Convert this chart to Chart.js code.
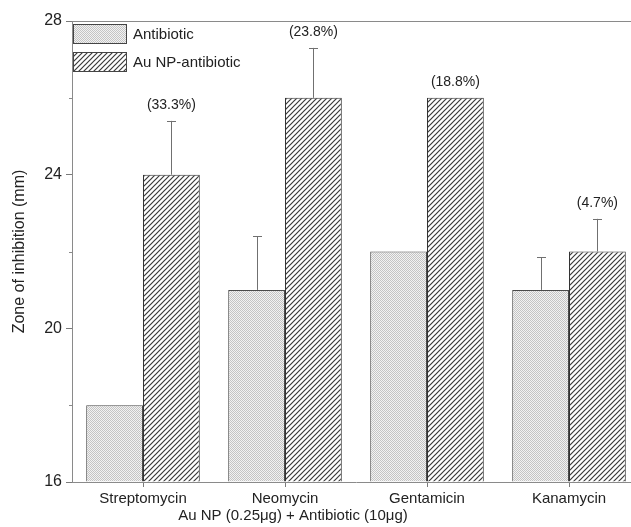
<!DOCTYPE html>
<html>
<head>
<meta charset="utf-8">
<script src="https://cdn.jsdelivr.net/npm/chart.js@4/dist/chart.umd.min.js"></script>
<style>
  html, body { margin: 0; padding: 0; background: #fff; overflow: hidden; }
  #wrap { width: 640px; height: 527px; }
</style>
</head>
<body>
<div id="wrap"><canvas id="chart" width="640" height="527"></canvas></div>
<script>
// Zone of inhibition for each antibiotic, alone and combined with Au nanoparticles
const categories = ['Streptomycin', 'Neomycin', 'Gentamicin', 'Kanamycin'];
const antibioticZone = [18, 21, 22, 21];
const auNpZone = [24, 26, 26, 22];
const antibioticErr = [0, 1.4, 0, 0.85];
const auNpErr = [1.4, 1.3, 0, 0.85];
const increaseLabels = ['(33.3%)', '(23.8%)', '(18.8%)', '(4.7%)'];
const yTicks = [16, 20, 24, 28];
const yMin = 16, yMax = 28;

const FONT = '"Liberation Sans", Arial, sans-serif';

// fill patterns: fine grey stipple and diagonal hatching
function stipplePattern() {
  const c = document.createElement('canvas');
  c.width = 2; c.height = 2;
  const g = c.getContext('2d');
  g.fillStyle = '#f2f2f2'; g.fillRect(0, 0, 2, 2);
  g.fillStyle = '#c4c4c4'; g.fillRect(0, 0, 1, 1); g.fillRect(1, 1, 1, 1);
  return g.createPattern(c, 'repeat');
}
function hatchPattern() {
  const s = 5;
  const c = document.createElement('canvas');
  c.width = s; c.height = s;
  const g = c.getContext('2d');
  g.fillStyle = '#ffffff'; g.fillRect(0, 0, s, s);
  g.strokeStyle = '#3a3a3a'; g.lineWidth = 1.2;
  g.beginPath();
  g.moveTo(-1, s + 1); g.lineTo(s + 1, -1);
  g.moveTo(-1, 1); g.lineTo(1, -1);
  g.moveTo(s - 1, s + 1); g.lineTo(s + 1, s - 1);
  g.stroke();
  return g.createPattern(c, 'repeat');
}

const fills = [stipplePattern(), hatchPattern()];
const errors = [antibioticErr, auNpErr];

// upward error bars and percentage labels above the hatched bars
const annotate = {
  id: 'annotate',
  afterDatasetsDraw(chart) {
    const ctx = chart.ctx;
    const y = chart.scales.y;
    ctx.save();
    chart.data.datasets.forEach((ds, di) => {
      const meta = chart.getDatasetMeta(di);
      meta.data.forEach((bar, i) => {
        const err = errors[di][i];
        if (err > 0) {
          const top = y.getPixelForValue(ds.data[i] + err);
          ctx.strokeStyle = '#707070';
          ctx.lineWidth = 1;
          ctx.beginPath();
          ctx.moveTo(Math.round(bar.x) + 0.5, bar.y);
          ctx.lineTo(Math.round(bar.x) + 0.5, top);
          ctx.moveTo(Math.round(bar.x) - 4, Math.round(top) + 0.5);
          ctx.lineTo(Math.round(bar.x) + 5, Math.round(top) + 0.5);
          ctx.stroke();
        }
      });
    });
    // percentage increase labels
    const hm = chart.getDatasetMeta(1);
    ctx.fillStyle = '#222';
    ctx.font = '14px ' + FONT;
    ctx.textAlign = 'center';
    ctx.textBaseline = 'middle';
    hm.data.forEach((bar, i) => {
      const top = y.getPixelForValue(auNpZone[i] + auNpErr[i]);
      ctx.fillText(increaseLabels[i], bar.x, top - 16);
    });
    ctx.restore();
  }
};

// frame line along the top, short minor ticks, legend inside the plot, x axis title
const frame = {
  id: 'frame',
  afterDraw(chart) {
    const ctx = chart.ctx;
    const a = chart.chartArea;
    const ys = chart.scales.y;
    ctx.save();
    ctx.strokeStyle = '#8a8a8a';
    ctx.lineWidth = 1;
    ctx.beginPath();
    ctx.moveTo(a.left, Math.round(a.top) + 0.5);
    ctx.lineTo(chart.width, Math.round(a.top) + 0.5);
    // minor ticks on the y axis, between the labelled ones
    for (let v = yMin + 2; v < yMax; v += 4) {
      const py = Math.round(ys.getPixelForValue(v)) + 0.5;
      ctx.moveTo(a.left - 3, py);
      ctx.lineTo(a.left, py);
    }
    ctx.stroke();

    // legend
    const sw = 53, sh = 19, gap = 28;
    const lx = a.left + 1, ly = a.top + 3;
    ctx.font = '15px ' + FONT;
    ctx.textAlign = 'left';
    ctx.textBaseline = 'middle';
    chart.data.datasets.forEach((ds, i) => {
      const yy = ly + i * gap;
      ctx.fillStyle = ds.backgroundColor;
      ctx.fillRect(lx, yy, sw, sh);
      ctx.strokeStyle = '#444';
      ctx.strokeRect(lx + 0.5, yy + 0.5, sw, sh);
      ctx.fillStyle = '#222';
      ctx.fillText(ds.label, lx + sw + 7, yy + sh / 2 + 1);
    });

    // x axis title under the category labels
    const xs = chart.scales.x;
    ctx.font = '15px ' + FONT;
    ctx.textAlign = 'center';
    ctx.fillStyle = '#222';
    ctx.fillText('Au NP (0.25μg) + Antibiotic (10μg)',
      (xs.getPixelForValue(1) + xs.getPixelForValue(2)) / 2 - 63, a.bottom + 34);
    ctx.restore();
  }
};

new Chart(document.getElementById('chart'), {
  type: 'bar',
  data: {
    labels: categories,
    datasets: [
      { label: 'Antibiotic', data: antibioticZone, backgroundColor: fills[0],
        borderColor: '#4a4a4a', borderWidth: 1, base: yMin },
      { label: 'Au NP-antibiotic', data: auNpZone, backgroundColor: fills[1],
        borderColor: '#333', borderWidth: 1, base: yMin }
    ]
  },
  options: {
    responsive: false,
    animation: false,
    devicePixelRatio: 1,
    layout: { padding: { top: 21, right: 0, left: 0, bottom: 0 } },
    datasets: { bar: { categoryPercentage: 0.8, barPercentage: 1.0 } },
    plugins: { legend: { display: false }, tooltip: { enabled: false } },
    scales: {
      x: {
        afterFit(s) { s.height = 45; },
        grid: { offset: false, drawOnChartArea: false, tickLength: 5, color: '#7a7a7a' },
        border: { color: '#8a8a8a', width: 1 },
        ticks: { color: '#222', font: { family: FONT, size: 15 }, padding: 3, maxRotation: 0 }
      },
      y: {
        min: yMin, max: yMax,
        afterFit(s) { s.width = 72; },
        grid: { drawOnChartArea: false, tickLength: 6, color: '#7a7a7a' },
        border: { color: '#8a8a8a', width: 1 },
        ticks: {
          stepSize: 4,
          color: '#222', font: { family: FONT, size: 16 }, padding: 4,
          callback: (v) => yTicks.includes(v) ? String(v) : ''
        },
        title: {
          display: true, text: 'Zone of inhibition (mm)', color: '#222',
          font: { family: FONT, size: 16 }, padding: { top: 10, bottom: 0 }
        }
      }
    }
  },
  plugins: [annotate, frame]
});
</script>
</body>
</html>
